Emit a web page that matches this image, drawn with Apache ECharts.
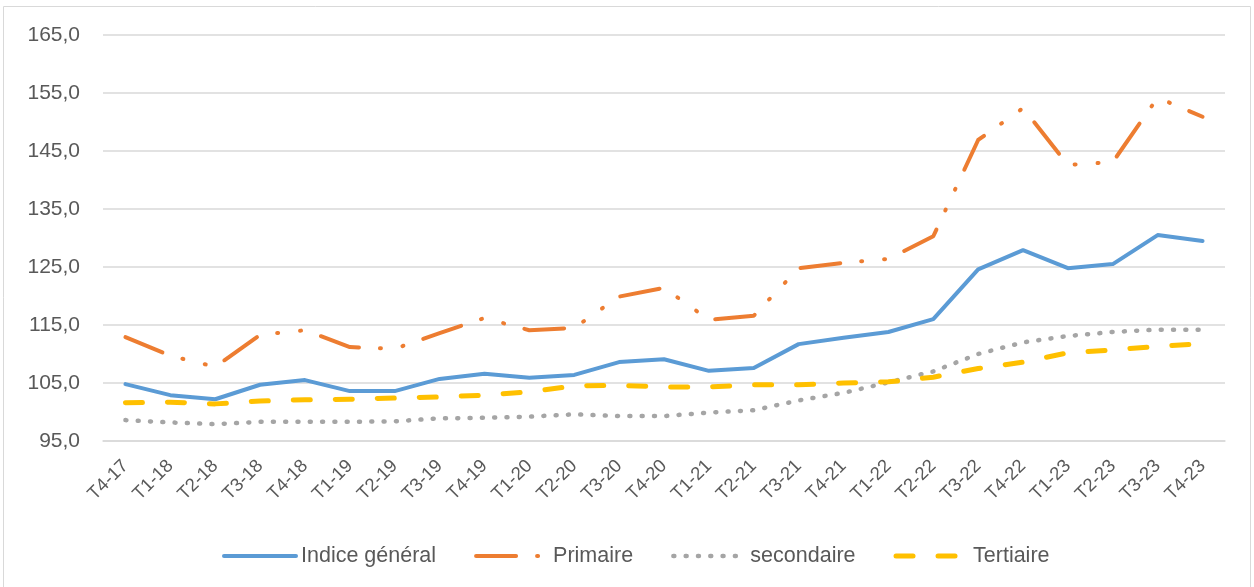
<!DOCTYPE html>
<html>
<head>
<meta charset="utf-8">
<script src="https://cdn.jsdelivr.net/npm/echarts@6/dist/echarts.min.js"></script>
<style>
    html, body { margin: 0; padding: 0; background: #fff; }
    #chart { width: 1254px; height: 587px; }
</style>
</head>
<body>
<div id="chart"></div>
<script>
    // trimestres
    const categories = ['T4-17', 'T1-18', 'T2-18', 'T3-18', 'T4-18', 'T1-19', 'T2-19', 'T3-19', 'T4-19',
        'T1-20', 'T2-20', 'T3-20', 'T4-20', 'T1-21', 'T2-21', 'T3-21', 'T4-21', 'T1-22', 'T2-22',
        'T3-22', 'T4-22', 'T1-23', 'T2-23', 'T3-23', 'T4-23'];

    const indiceGeneral = [104.8, 102.9, 102.2, 104.7, 105.5, 103.6, 103.6, 105.7, 106.6, 105.9, 106.4, 108.6, 109.1,
        107.1, 107.6, 111.7, 112.8, 113.8, 116.0, 124.6, 127.9, 124.8, 125.5, 130.5, 129.5];
    const primaire = [112.9, 109.7, 107.8, 113.3, 114.1, 111.2, 110.9, 113.6, 116.2, 114.1, 114.5, 119.9, 121.4,
        115.9, 116.6, 124.8, 125.7, 126.4, 130.3, 146.9, 152.4, 142.6, 143.1, 154.2, 150.9];
    const secondaire = [98.6, 98.2, 97.9, 98.3, 98.3, 98.3, 98.4, 98.9, 99.0, 99.2, 99.6, 99.3, 99.3,
        99.9, 100.3, 102.0, 103.3, 105.1, 107.0, 110.0, 112.0, 113.1, 113.8, 114.2, 114.2];
    const tertiaire = [101.6, 101.7, 101.4, 101.9, 102.1, 102.2, 102.4, 102.6, 102.9, 103.5, 104.5, 104.6, 104.3,
        104.3, 104.7, 104.7, 105.0, 105.2, 106.0, 107.5, 108.6, 110.2, 110.7, 111.3, 111.8];

    const yTicks = {min: 95, max: 165, step: 10};

    const font = '"Liberation Sans", Arial, sans-serif';
    const chart = echarts.init(document.getElementById('chart'));

    function serie(name, data, color, width, type) {
        return {
            name: name,
            type: 'line',
            data: data,
            symbol: 'none',
            animation: false,
            lineStyle: {color: color, width: width, type: type, cap: 'round', join: 'round'},
            itemStyle: {color: color}
        };
    }

    chart.setOption({
        animation: false,
        graphic: [{
            type: 'rect',
            shape: {x: 3.5, y: 6.5, width: 1247, height: 590},
            style: {fill: 'none', stroke: '#D9D9D9', lineWidth: 1}
        }],
        grid: {left: 103, right: 29, top: 35, bottom: 146},
        legend: {
            left: 222,
            top: 545,
            padding: 0,
            itemWidth: 72,
            itemHeight: 26,
            itemGap: 38,
            itemStyle: {opacity: 0},
            lineStyle: {width: 'inherit', type: 'inherit', cap: 'inherit'},
            textStyle: {fontFamily: font, fontSize: 21.5, color: '#595959'},
            data: ['Indice général', 'Primaire', 'secondaire', 'Tertiaire']
        },
        xAxis: {
            type: 'category',
            data: categories,
            boundaryGap: true,
            axisLine: {show: true, lineStyle: {color: '#D9D9D9', width: 1.5}},
            axisTick: {show: false},
            axisLabel: {rotate: 45, fontFamily: font, fontSize: 18.5, color: '#595959', margin: 22, interval: 0}
        },
        yAxis: {
            type: 'value',
            min: yTicks.min,
            max: yTicks.max,
            interval: yTicks.step,
            axisLine: {show: false},
            axisTick: {show: false},
            splitLine: {lineStyle: {color: '#D9D9D9', width: 1.5}},
            axisLabel: {
                fontFamily: font, fontSize: 21, color: '#595959', margin: 23,
                formatter: v => v.toFixed(1).replace('.', ',')
            }
        },
        series: [
            serie('Indice général', indiceGeneral, '#5B9BD5', 4, 'solid'),
            serie('Primaire', primaire, '#ED7D31', 4, [40, 21, 1, 22, 1, 21]),
            serie('secondaire', secondaire, '#A5A5A5', 4.5, [1, 11.3]),
            serie('Tertiaire', tertiaire, '#FFC000', 5, [17, 25])
        ]
    });
</script>
</body>
</html>
